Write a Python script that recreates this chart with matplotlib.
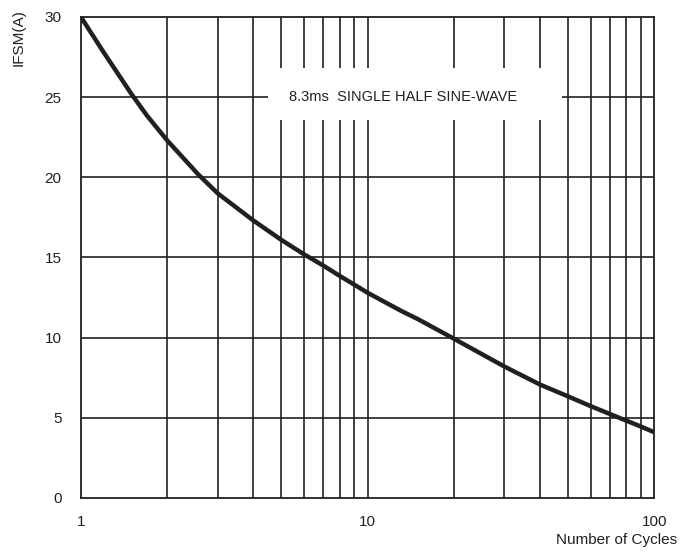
"""Surge current derating curve: IFSM vs number of cycles."""

import matplotlib
matplotlib.use("Agg")
import matplotlib.pyplot as plt
from matplotlib.patches import Rectangle
from matplotlib.ticker import FixedLocator, NullLocator

plt.rcParams["font.family"] = ["Liberation Sans", "DejaVu Sans"]

# values
cycles = [1, 1.2, 1.5, 1.7, 2, 2.56, 3, 4, 5, 6, 7, 8, 9, 10, 13, 15, 19.7,
          30, 40, 50, 60, 70, 80, 90, 100]
ifsm = [30.0, 27.8, 25.2, 23.85, 22.3, 20.2, 19.0, 17.3, 16.1, 15.2, 14.5, 13.85, 13.3,
        12.8, 11.7, 11.15, 10.0, 8.2, 7.07, 6.34, 5.73, 5.24, 4.82, 4.45, 4.1]

x_ticks = [1, 10, 100]
x_tick_labels = ["1", "10", "100"]
x_grid = [2, 3, 4, 5, 6, 7, 8, 9, 20, 30, 40, 50, 60, 70, 80, 90]
y_ticks = [0, 5, 10, 15, 20, 25, 30]

INK = "#231f20"

fig = plt.figure(figsize=(6.8, 5.57), dpi=100)
ax = fig.add_axes([0.119, 0.106, 0.843, 0.8635])

ax.set_xscale("log")
ax.set_xlim(1, 100)
ax.set_ylim(0, 30)

ax.xaxis.set_major_locator(FixedLocator(x_ticks))
ax.xaxis.set_minor_locator(NullLocator())
ax.set_xticklabels(x_tick_labels)
ax.set_yticks(y_ticks)
ax.tick_params(length=0, labelsize=11, colors=INK)
ax.tick_params(axis="y", pad=14)
ax.tick_params(axis="x", pad=12)

for x in x_ticks[1:-1] + x_grid:
    ax.axvline(x, color=INK, lw=1.2, zorder=0.5)
for y in y_ticks[1:-1]:
    ax.axhline(y, color=INK, lw=1.2, zorder=0.5)
for s in ax.spines.values():
    s.set_color(INK)
    s.set_linewidth(1.3)

# white box behind the annotation, cuts the grid
ax.add_patch(Rectangle((4.49, 23.58), 47.7 - 4.49, 26.8 - 23.58,
                       facecolor="white", edgecolor="none", zorder=1))
ax.text(13.3, 25, "8.3ms  SINGLE HALF SINE-WAVE", ha="center", va="center",
        fontsize=10.5, color=INK, zorder=2)

ax.plot(cycles, ifsm, color=INK, lw=3.2, solid_capstyle="butt",
        solid_joinstyle="round", zorder=3)

fig.text(0.996, 0.018, "Number of Cycles", ha="right", va="bottom", fontsize=11, color=INK)
fig.text(0.017, 0.983, "IFSM(A)", rotation=90, ha="left", va="top", fontsize=11, color=INK)

fig.savefig("out.png", dpi=100)
